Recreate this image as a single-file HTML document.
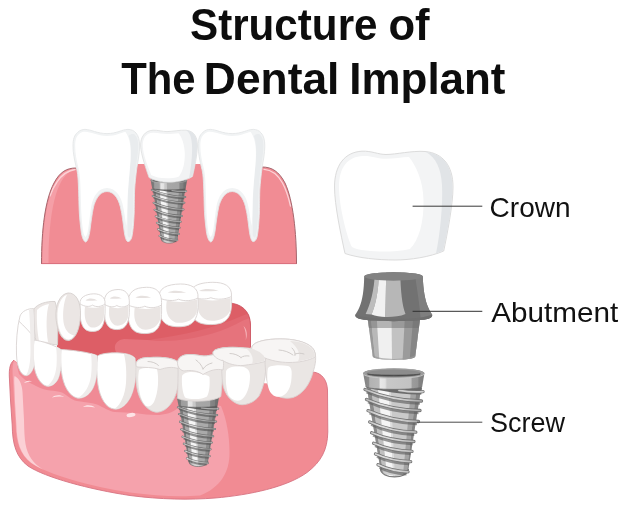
<!DOCTYPE html>
<html lang="en">
<head>
<meta charset="utf-8">
<title>Structure of The Dental Implant</title>
<style>
html,body{margin:0;padding:0;background:#fff;}
body{width:626px;height:508px;overflow:hidden;font-family:"Liberation Sans",sans-serif;}
svg{display:block;will-change:transform;}
</style>
</head>
<body>
<svg width="626" height="508" viewBox="0 0 626 508">
<rect width="626" height="508" fill="#ffffff"/>

<defs>
<linearGradient id="gBody" x1="366" x2="422" y1="0" y2="0" gradientUnits="userSpaceOnUse">
 <stop offset="0" stop-color="#858585"/><stop offset="0.09" stop-color="#909090"/>
 <stop offset="0.12" stop-color="#c2c2c2"/><stop offset="0.2" stop-color="#d0d0d0"/>
 <stop offset="0.23" stop-color="#f6f6f6"/><stop offset="0.38" stop-color="#f0f0f0"/>
 <stop offset="0.41" stop-color="#cfcfcf"/><stop offset="0.76" stop-color="#c8c8c8"/>
 <stop offset="0.79" stop-color="#a3a3a3"/><stop offset="0.87" stop-color="#9c9c9c"/>
 <stop offset="0.9" stop-color="#858585"/><stop offset="1" stop-color="#7d7d7d"/>
</linearGradient>
<linearGradient id="gThread" x1="364" x2="424" y1="0" y2="0" gradientUnits="userSpaceOnUse">
 <stop offset="0" stop-color="#b0b0b0"/><stop offset="0.25" stop-color="#dcdcdc"/>
 <stop offset="0.6" stop-color="#d0d0d0"/><stop offset="0.85" stop-color="#b5b5b5"/><stop offset="1" stop-color="#a0a0a0"/>
</linearGradient>
<linearGradient id="gCollar" x1="363" x2="424.500" y1="0" y2="0" gradientUnits="userSpaceOnUse">
 <stop offset="0" stop-color="#808080"/><stop offset="0.09" stop-color="#8c8c8c"/>
 <stop offset="0.11" stop-color="#b2b2b2"/><stop offset="0.26" stop-color="#b9b9b9"/>
 <stop offset="0.28" stop-color="#e8e8e8"/><stop offset="0.36" stop-color="#e2e2e2"/>
 <stop offset="0.39" stop-color="#c8c8c8"/><stop offset="0.78" stop-color="#c2c2c2"/>
 <stop offset="0.8" stop-color="#9c9c9c"/><stop offset="0.89" stop-color="#969696"/>
 <stop offset="0.91" stop-color="#838383"/><stop offset="1" stop-color="#7c7c7c"/>
</linearGradient>
<g id="crown">
 <path d="M345,253.5 C341,235 334.5,205 334.5,187 C334.5,165 345,152 362,151.2 C372,150.8 378,154.5 386,154.5 C396,154.5 412,150.5 425,151.5 C443,153 453,166 453,187 C453,205 447,235 443.7,251 C430,257 410,260 395,260 C378,260 358,258 345,253.5 Z" fill="#f3f4f5" stroke="#dcdcdc" stroke-width="1"/>
 <path d="M426,152 C444,154 452.5,167 452.5,187 C452.5,205 447,235 443.2,250.5 L436,253.5 C440,235 443,205 442,185 C441,168 436,158 426,152 Z" fill="#e1e4e7"/>
 <path d="M352,247 C348,240 339,208 339,187 C339,167 348,156.500 363,156 C372,155.700 378,158.800 386,158.800 C394,158.800 402,157 409,157 C416,166 423,180 423.500,200 C424,222 419,240 410,249 C402,251 392,251.500 384,251.500 C372,251.500 358,250.500 352,247 Z" fill="#ffffff"/>
</g>
<g id="tooth">
 <path d="M85.6,242 C83,241 81.5,235 81,230 C80,222 79.2,214 79,205 C78.800,195 78.5,185 78,178 C77.6,173 77,170 76.4,168 C74.5,160 73,153 73,146 C73,139 74.5,135 77.5,132.5 C80,130 82.5,129.4 85,129.4 C91,129.4 97,133.6 107,133.6 C117,133.6 122,129.4 128,129.4 C131,129.4 134,130.5 136,133 C138.5,136 139.6,140 139.6,146 C139.6,153 138,161 136.800,168 C135.800,176 135,183 134.600,190 C134.300,200 134.300,208 134.200,212 C133.800,222 133,232 131.800,237 C131,240 129.5,241.6 128,241.6 C126.5,241.6 125,238 124,230 C123,222 122,214 121,210 C119.5,201 115,191.500 107,191.500 C99,191.500 95,201 93.5,207 C92,214 91,222 90,230 C89,237 87.5,241.5 85.6,242 Z" fill="#f1f3f4" stroke="#e4e6e8" stroke-width="0.9"/>
 <path d="M128.5,136 C131,133.500 134,133.5 135.5,135.5 C137.5,138 138.2,141 138.2,146 C138.2,153 136.800,161 135.600,168 C134.600,176 133.800,183 133.400,190 C133.100,200 133.100,208 133,212 C132.600,222 131.800,231 130.800,235.500 C130,238.500 128.5,238 127.500,235 C127.800,228 127.800,215 127.800,205 C127.800,190 129,178 130,168 C131,158 132,143 128.5,136 Z" fill="#e9ecee"/>
 <path d="M85.3,237 C83.8,235 83.2,232 82.8,229 C81.9,222 81.200,214 81,205 C80.800,195 80.5,185 80,178 C79.6,173 79,170 78.4,167.5 C76.5,160 75.200,153 75.200,146 C75.200,140 76.300,136.5 78.800,134.300 C80.800,132.300 83,131.800 85,131.800 C91,131.800 97,136 107,136 C116,136 120.500,132.600 125.500,132 C130,138 131.300,148 130.500,160 C129.800,172 128,186 127.500,200 C127.200,210 127,220 126.300,226 C125.300,220 124.500,213 123.200,207 C121.500,197 116,188 107,188 C98,188 93,197 91.300,206 C90,214 89.200,222 88.200,229 C87.500,233.500 86.500,236.500 85.3,237 Z" fill="#ffffff"/>
</g>
<clipPath id="cpBody"><path d="M366.5,386 L421.5,386 L408.6,468 C408,479.500 381,479.500 380.2,468 Z"/></clipPath>
<g id="screwbody">
<g clip-path="url(#cpBody)">
<rect x="360" y="384" width="70" height="98" fill="#cacaca"/>
<path d="M360,384 L370.500,384 L384,480 L360,480Z" fill="#8b8b8b"/>
<path d="M370.500,384 L377.500,384 L387.500,480 L384,480Z" fill="#c0c0c0"/>
<path d="M377.500,384 L388.500,384 L393.500,480 L387.500,480Z" fill="#f5f5f5"/>
<path d="M388.500,384 L390.500,384 L395,480 L393.500,480Z" fill="#dedede"/>
<path d="M411.500,384 L417,384 L406,480 L402.500,480Z" fill="#a3a3a3"/>
<path d="M417,384 L430,384 L430,480 L406,480Z" fill="#848484"/>
<path d="M378,468 C382,479.500 408,479.500 411,468 L411,482 L378,482Z" fill="#8f8f8f" opacity="0.85"/>
</g>
<ellipse cx="393.500" cy="472.600" rx="9.500" ry="2.800" fill="#cfcfcf"/>
<path d="M380.400,469 C381,479.500 408,479.500 408.500,469" fill="none" stroke="#777" stroke-width="1.100"/>
<path d="M367,387.500 L422,387.500 L421.300,394.500 C410,394.800 396,393.500 384,391 C378,390 372,389 367,387.500Z" fill="#6a6a6a"/>
<path d="M366.5,392.1 C381.9,399.2 400.0,403.0 420.0,403.4" fill="none" stroke="#5c5c5c" stroke-opacity="0.62" stroke-width="2.6"/>
<path d="M368.0,402.1 C382.6,408.9 399.7,412.5 418.5,412.9" fill="none" stroke="#5c5c5c" stroke-opacity="0.62" stroke-width="2.6"/>
<path d="M369.5,413.2 C383.1,420.0 399.3,423.5 417.0,423.9" fill="none" stroke="#5c5c5c" stroke-opacity="0.62" stroke-width="2.6"/>
<path d="M371.2,424.6 C383.5,430.9 398.3,434.2 414.3,434.6" fill="none" stroke="#5c5c5c" stroke-opacity="0.62" stroke-width="2.6"/>
<path d="M373.1,435.4 C384.3,440.8 397.8,443.5 412.4,443.9" fill="none" stroke="#5c5c5c" stroke-opacity="0.62" stroke-width="2.6"/>
<path d="M375.1,445.9 C385.1,450.9 397.4,453.4 410.5,453.8" fill="none" stroke="#5c5c5c" stroke-opacity="0.62" stroke-width="2.6"/>
<path d="M377.0,456.6 C386.1,461.3 397.3,463.6 409.2,464.0" fill="none" stroke="#5c5c5c" stroke-opacity="0.62" stroke-width="2.6"/>
<path d="M379.5,467.4 C387.0,471.7 396.6,473.8 406.5,474.2" fill="none" stroke="#5c5c5c" stroke-opacity="0.62" stroke-width="2.6"/>
<path d="M399,390.300 Q412,392.400 423,391.600" fill="none" stroke="#737373" stroke-width="3.300" stroke-linecap="round"/>
<path d="M399,390.300 Q412,392.400 423,391.600" fill="none" stroke="#cfcfcf" stroke-width="1.700" stroke-linecap="round"/>
<path d="M365.0,389.5 C381.9,396.6 400.0,400.6 421.5,401.0" fill="none" stroke="#737373" stroke-width="3.300" stroke-linecap="round"/>
<path d="M365.0,389.5 C381.9,396.6 400.0,400.6 421.5,401.0" fill="none" stroke="url(#gThread)" stroke-width="1.700" stroke-linecap="round"/>
<path d="M366.5,399.5 C382.6,406.3 399.7,410.1 420.0,410.5" fill="none" stroke="#737373" stroke-width="3.300" stroke-linecap="round"/>
<path d="M366.5,399.5 C382.6,406.3 399.7,410.1 420.0,410.5" fill="none" stroke="url(#gThread)" stroke-width="1.700" stroke-linecap="round"/>
<path d="M368.0,410.6 C383.1,417.4 399.3,421.1 418.5,421.5" fill="none" stroke="#737373" stroke-width="3.300" stroke-linecap="round"/>
<path d="M368.0,410.6 C383.1,417.4 399.3,421.1 418.5,421.5" fill="none" stroke="url(#gThread)" stroke-width="1.700" stroke-linecap="round"/>
<path d="M369.7,422.0 C383.5,428.3 398.3,431.8 415.8,432.2" fill="none" stroke="#737373" stroke-width="3.300" stroke-linecap="round"/>
<path d="M369.7,422.0 C383.5,428.3 398.3,431.8 415.8,432.2" fill="none" stroke="url(#gThread)" stroke-width="1.700" stroke-linecap="round"/>
<path d="M371.6,432.8 C384.3,438.2 397.8,441.1 413.9,441.5" fill="none" stroke="#737373" stroke-width="3.300" stroke-linecap="round"/>
<path d="M371.6,432.8 C384.3,438.2 397.8,441.1 413.9,441.5" fill="none" stroke="url(#gThread)" stroke-width="1.700" stroke-linecap="round"/>
<path d="M373.6,443.3 C385.1,448.3 397.4,451.0 412.0,451.4" fill="none" stroke="#737373" stroke-width="3.300" stroke-linecap="round"/>
<path d="M373.6,443.3 C385.1,448.3 397.4,451.0 412.0,451.4" fill="none" stroke="url(#gThread)" stroke-width="1.700" stroke-linecap="round"/>
<path d="M375.5,454.0 C386.1,458.7 397.3,461.2 410.7,461.6" fill="none" stroke="#737373" stroke-width="3.300" stroke-linecap="round"/>
<path d="M375.5,454.0 C386.1,458.7 397.3,461.2 410.7,461.6" fill="none" stroke="url(#gThread)" stroke-width="1.700" stroke-linecap="round"/>
<path d="M378.0,464.8 C387.0,469.1 396.6,471.4 408.0,471.8" fill="none" stroke="#737373" stroke-width="3.300" stroke-linecap="round"/>
<path d="M378.0,464.8 C387.0,469.1 396.6,471.4 408.0,471.8" fill="none" stroke="url(#gThread)" stroke-width="1.700" stroke-linecap="round"/>
</g>
<g id="screwtop">
<path d="M363.2,373.500 C363.2,366.500 424.4,366.500 424.4,373.500 L422.2,386.500 C421.500,390.300 366.500,390.300 365.600,386.500 Z" fill="url(#gCollar)"/>
<path d="M365.600,386.500 C366.500,390.300 421.500,390.300 422.200,386.500" fill="none" stroke="#6a6a6a" stroke-width="0.9" opacity="0.8"/>
<ellipse cx="393.8" cy="373.200" rx="30.600" ry="4.900" fill="#9c9c9c"/>
<ellipse cx="393.8" cy="373.300" rx="27.500" ry="3.700" fill="#8c8c8c"/>
<path d="M367.500,374 C373,376.800 414,376.800 420.200,374 C414,375.500 374,375.500 367.500,374Z" fill="#444" stroke="#4e4e4e" stroke-width="0.7"/>
<path d="M363.500,374.300 C368,379.600 419,379.600 424.100,374.300" fill="none" stroke="#c9c9c9" stroke-width="1" opacity="0.9"/>
</g>
<g id="screwshade" fill="#2e2e2e">
<path d="M363.200,373.500 L378,373.500 L378.500,392 L386,474 L381.500,474 L380.200,468 L366.500,392Z" opacity="0.160"/>
<path d="M390,373.500 L424.400,373.500 L421.500,392 L408.600,468 L407.500,474 L394.500,474 L391,392Z" opacity="0.200"/>
</g>
</defs>



<g font-family="'Liberation Sans', sans-serif" font-weight="700" font-size="43.9" fill="#0d0d0d">
<text x="190.00" y="39.6" textLength="187.50" lengthAdjust="spacingAndGlyphs">Structure</text>
<text x="388.45" y="39.6" textLength="41.17" lengthAdjust="spacingAndGlyphs">of</text>
<text x="121.20" y="94.0" textLength="74.39" lengthAdjust="spacingAndGlyphs">The</text>
<text x="203.88" y="94.0" textLength="135.56" lengthAdjust="spacingAndGlyphs">Dental</text>
<text x="349.29" y="94.0" textLength="156.21" lengthAdjust="spacingAndGlyphs">Implant</text>
</g>


<g id="section">
<path d="M41.5,264 C41.5,230 45,200 54,183 C60,171.5 67,168 76,168 L80,168 L80,164 L258,164 L258,167 L262,167 C272,167 279,171.5 285,183 C293,200 296.5,232 296.5,264 Z" fill="#f18c94"/>
<path d="M42.5,264 C42.5,230 46,200 55,183.5 C60.5,173 67,169 76,168.8 C70,170.500 64.500,175 60,184 C52,200 48.500,230 48.500,264 Z" fill="#f59fa7"/>
<path d="M50,196 C52,190 54.500,185.500 57,182 C61.500,175 67,170.800 75,169.500" fill="none" stroke="#fbd3d7" stroke-width="1.300" stroke-linecap="round"/>
<path d="M41.5,264 C41.5,230 45,200 54,183 C60,171.5 67,168 76,168" fill="none" stroke="#a5666d" stroke-width="1"/>
<path d="M264,169.300 C271.500,169.800 277.500,174 282.500,183 C286,189.500 288.500,197 290.500,206" fill="none" stroke="#fbd3d7" stroke-width="1.300" stroke-linecap="round"/>
<path d="M262,167 C272,167 279,171.5 285,183 C293,200 296.5,232 296.5,264" fill="none" stroke="#a5666d" stroke-width="1"/>
<line x1="41.5" y1="263.6" x2="296.5" y2="263.6" stroke="#d9707d" stroke-width="1"/>
<use href="#tooth"/>
<use href="#tooth" transform="translate(125.2,0)"/>
<g transform="translate(168.8,189) scale(0.593,0.610) translate(-393.7,-388)"><use href="#screwbody"/><use href="#screwtop"/><use href="#screwshade"/></g>
<g id="smallcrown">
<path d="M149,177.500 C146.500,170 141,155 140.600,146 C140.300,137 145,130.500 153,130.200 C158,130 162,131.600 167,131.600 C172,131.600 180,129.800 186,130.200 C194,131 197.600,137 197.400,146 C197.200,155 194.500,168 192.500,176.500 C186,180.500 177,182.300 169,182.300 C161,182.300 154,180.500 149,177.500Z" fill="#f2f3f4" stroke="#dedfe0" stroke-width="0.800"/>
<path d="M186.500,130.400 C194,131 197.200,137 197.200,146 C197,155 194.300,168 192.300,175.800 L189,178.500 C191,168 192.500,155 192,145 C191.500,137 190,133 186.500,130.400Z" fill="#e2e5e8"/>
<path d="M151,174.500 C148.500,168 143,155 142.800,146 C142.600,138 146,133 153,132.700 C158,132.500 162,134 167,134 C171,134 175,133.200 178.500,133.200 C182,137 184.500,145 184.800,153 C185,163 183,171 179,176.500 C175,178 171,178.300 167,178.300 C160,178.300 155,177 151,175Z" fill="#ffffff"/>
</g>
</g>

<g id="jaw">
<!-- inner mouth -->
<clipPath id="cpMouth"><path d="M57,316 L226,312 L229,303 C240,303.500 250.500,310 250.500,325 L250.500,365 L57,365 Z"/></clipPath>
<g clip-path="url(#cpMouth)">
<rect x="50" y="300" width="205" height="70" fill="#dd5e66"/>
<path d="M150,339.500 C180,336 215,328 243,315.500 L252,312 L252,324 C225,334 200,340 175,342 Z" fill="#e16871"/>
<path d="M116,352 C113,346 116,340 124,339 C145,339.500 160,341.500 175,340.500 C200,338.500 225,331 243,320.500 L252,317 L252,365 L120,365Z" fill="#e6737c"/>
<path d="M243.500,326 C247,329 247.800,335 245.800,340 C246.300,335 245.500,330 243.500,326Z" fill="#f6b3b9"/>
</g>
<path d="M229,303 C240,303.500 250.500,310 250.500,325 L250.500,347" fill="none" stroke="#c9515e" stroke-width="0.800"/>

<!-- back teeth -->
<g id="backmolars">
<path d="M190.0,296.5 C189.4,310.4 190.8,319.3 200.0,323.0 C206.6,325.1 214.9,325.1 221.5,323.0 C230.7,319.3 232.1,310.4 231.5,296.5 C232.3,285.8 224.0,282.3 212.8,282.3 C198.3,282.6 189.4,286.3 190.0,296.5Z" fill="#ffffff" stroke="#d9d4d2" stroke-width="0.9" stroke-linejoin="round"/>
<path d="M198.3,299.0 C196.6,309.0 198.3,316.3 207.4,320.3 C215.7,321.7 226.5,319.3 230.3,310.4 C230.7,304.8 230.7,300.5 230.7,298.0 C219.1,301.0 208.7,301.0 198.3,299.0Z" fill="#eae5e3"/>
<path d="M190.0,296.5 C198.3,299.5 205.8,299.7 210.8,297.7 C217.0,300.1 225.3,299.5 231.5,296.5" fill="none" stroke="#d9d4d2" stroke-width="0.9"/>
<path d="M199.1,290.9 C204.5,288.2 212.8,288.6 219.1,291.2 C212.8,290.7 206.6,292.0 199.1,290.9Z" fill="#e6e1df"/>
<path d="M159.0,298.0 C158.4,312.2 159.8,321.5 168.4,325.2 C174.6,327.3 182.4,327.3 188.6,325.2 C197.2,321.5 198.6,312.2 198.0,298.0 C198.8,287.5 191.0,284.0 180.4,284.0 C166.8,284.3 158.4,288.0 159.0,298.0Z" fill="#ffffff" stroke="#d9d4d2" stroke-width="0.9" stroke-linejoin="round"/>
<path d="M166.8,300.5 C165.2,310.8 166.8,318.5 175.4,322.5 C183.2,323.9 193.3,321.5 196.8,312.2 C197.2,306.6 197.2,302.0 197.2,299.5 C186.3,302.5 176.6,302.5 166.8,300.5Z" fill="#eae5e3"/>
<path d="M159.0,298.0 C166.8,301.0 173.8,301.2 178.5,299.2 C184.3,301.6 192.2,301.0 198.0,298.0" fill="none" stroke="#d9d4d2" stroke-width="0.9"/>
<path d="M167.6,292.5 C172.7,289.8 180.4,290.2 186.3,292.8 C180.4,292.3 174.6,293.6 167.6,292.5Z" fill="#e6e1df"/>
<path d="M128.0,305.0 C127.4,319.1 128.8,328.3 136.0,332.0 C141.4,334.1 148.1,334.1 153.5,332.0 C160.7,328.3 162.1,319.1 161.5,305.0 C162.3,290.8 155.5,287.3 146.4,287.3 C134.7,287.6 127.4,291.3 128.0,305.0Z" fill="#ffffff" stroke="#d9d4d2" stroke-width="0.9" stroke-linejoin="round"/>
<path d="M134.7,307.5 C133.4,317.7 134.7,325.3 142.1,329.3 C148.8,330.7 157.5,328.3 160.3,319.1 C160.7,313.5 160.7,309.0 160.7,306.5 C151.4,309.5 143.1,309.5 134.7,307.5Z" fill="#eae5e3"/>
<path d="M128.0,305.0 C134.7,308.0 140.7,308.2 144.8,306.2 C149.8,308.6 156.5,308.0 161.5,305.0" fill="none" stroke="#d9d4d2" stroke-width="0.9"/>
<path d="M135.4,297.6 C139.7,294.9 146.4,295.3 151.4,297.9 C146.4,297.4 141.4,298.8 135.4,297.6Z" fill="#e6e1df"/>
<path d="M104.3,304.3 C103.7,316.8 105.1,324.3 110.3,328.0 C114.3,330.1 119.3,330.1 123.3,328.0 C128.5,324.3 129.9,316.8 129.3,304.3 C130.1,293.0 124.8,289.5 118.1,289.5 C109.3,289.8 103.7,293.5 104.3,304.3Z" fill="#ffffff" stroke="#d9d4d2" stroke-width="0.9" stroke-linejoin="round"/>
<path d="M109.3,306.8 C108.3,315.6 109.3,321.3 114.8,325.3 C119.8,326.7 126.3,324.3 128.1,316.8 C128.5,311.8 128.5,308.3 128.5,305.8 C121.8,308.8 115.6,308.8 109.3,306.8Z" fill="#eae5e3"/>
<path d="M104.3,304.3 C109.3,307.3 113.8,307.5 116.8,305.5 C120.6,307.9 125.6,307.3 129.3,304.3" fill="none" stroke="#d9d4d2" stroke-width="0.9"/>
<path d="M109.8,298.4 C113.0,295.7 118.1,296.1 121.8,298.7 C118.1,298.2 114.3,299.5 109.8,298.4Z" fill="#e6e1df"/>
<path d="M80.0,303.9 C79.4,317.5 80.8,326.2 86.0,329.9 C90.0,332.0 95.0,332.0 99.0,329.9 C104.2,326.2 105.6,317.5 105.0,303.9 C105.8,297.3 100.5,293.8 93.8,293.8 C85.0,294.1 79.4,297.8 80.0,303.9Z" fill="#ffffff" stroke="#d9d4d2" stroke-width="0.9" stroke-linejoin="round"/>
<path d="M85.0,306.4 C84.0,316.2 85.0,323.2 90.5,327.2 C95.5,328.6 102.0,326.2 103.8,317.5 C104.2,312.1 104.2,307.9 104.2,305.4 C97.5,308.4 91.2,308.4 85.0,306.4Z" fill="#eae5e3"/>
<path d="M80.0,303.9 C85.0,306.9 89.5,307.1 92.5,305.1 C96.2,307.5 101.2,306.9 105.0,303.9" fill="none" stroke="#d9d4d2" stroke-width="0.9"/>
<path d="M85.5,300.4 C88.8,297.7 93.8,298.1 97.5,300.7 C93.8,300.2 90.0,301.5 85.5,300.4Z" fill="#e6e1df"/>
</g>
<g fill="#ebe6e4" stroke="#d6d0ce" stroke-width="0.9" stroke-linejoin="round">
<path d="M34,309 C37,304 47,301 55,301.5 C58,310 58,330 57.5,345 L36,342 C34,330 33,318 34,309Z"/>
<path d="M56,318 C55,305 60,294 68,293 C76,292.5 81,302 80.5,315 C80,328 76,339 69,340.5 C62,341.5 57,331 56,318Z"/>
</g>
<!-- back teeth highlights -->
<g fill="#ffffff">
<path d="M57.500,318 C57,306 61,296.500 67,294.800 C63.500,302 62.500,313 63.500,322 C64.500,329 68,334 74,335.500 C72,338.500 70,339.500 68.500,339.500 C62.500,339.500 58,330 57.500,318Z"/>
<path d="M37,310 C40,306.5 45,304.5 49,304 C46,312 46,330 48,342 L39,341 C37,330 36.500,318 37,310Z"/>
</g>

<!-- front gum -->
<path d="M14,360 C9,364 9,372 9.500,380 L10.500,400 L12.200,425 C12.500,444 16,457 28,466 C45,477.500 90,489.500 130,495.500 C160,499.500 190,500 215,498 C250,495 287,487 307,472.500 C321,462 327.500,450 327.800,432 L327.500,390 C327,380 322,373 313,372 L300,385 L30,372 Z" fill="#f18b93"/>
<path d="M14,361 C12,365 12.500,372 13,380 L14,400 L15.700,425 C16,442 19.500,454 31,463 C48,474.500 90,486.500 130,492.500 C155,496 180,497 200,495.500 C220,488 230,472 229.500,452 C229.500,437 227,420 221,406 L150,395 L30,372 Z" fill="#f5a2ac"/>
<path d="M14.600,376 C14,378 14.200,382 14.400,386 L15,402 L16.400,425 C16.800,442 20,454 31.500,463 C35,465.500 39,467.800 43,469.500 C34,464 27.500,456 25.500,444 C24.500,438 24.200,430 24,420 L22.500,392 C22,384 19,378 14.600,376Z" fill="#fbd0d5"/>
<path d="M14,360 C9,364 9,372 9.500,380 L10.500,400 L12.200,425 C12.500,444 16,457 28,466 C45,477.500 90,489.500 130,495.500 C160,499.500 190,500 215,498 C250,495 287,487 307,472.500 C321,462 327.500,450 327.800,432 L327.500,390 C327,380 322,373 313,372" fill="none" stroke="#d77381" stroke-width="0.9"/>
<!-- gingival darker band -->
<path d="M17,366 L19,374 C24,380 30,383 36,386 C42,389 46,390 50,390.500 C55,391 58,391 62,392.500 C67,395 71,400 77,401 C84,402 91,402.500 97,404.500 C103,407 109,411.500 115,412 C122,412.500 129,412.500 135,413 C142,414 150,415 157,415 C164,415 172,413 178,408 L178,396 L20,362Z" fill="#f08a95"/>
<!-- small highlights -->
<g fill="#fde3e6">
<path d="M24,383 C26,380.500 30,380 32,381.500 C29,381.500 26.500,382.200 24,383Z"/>
<path d="M52,397.500 C55,394.500 61,394.500 64,397 C60,396.200 56,396.500 52,397.500Z"/>
<path d="M83,407 C86,404.500 92,405 95,407.500 C91,406.500 87,406.500 83,407Z"/>
<ellipse cx="131" cy="415" rx="4.500" ry="2" transform="rotate(-8 131 415)"/>
</g>

<!-- implant -->
<g transform="translate(197.850,393) scale(0.691,0.678) translate(-393.700,-368.400)"><use href="#screwbody"/><use href="#screwtop"/><use href="#screwshade"/></g>

<!-- front teeth -->
<g stroke="#d9d4d2" stroke-width="0.9" stroke-linejoin="round">
<path d="M20,316 C22,311 28,308.500 33.500,308.500 C34.500,325 34.500,350 34,366 C32,373 28,376.500 25,375.500 C20,374 17,366 16.500,355 C16,342 17,328 20,316Z" fill="#ffffff"/>
<path d="M34,340 C42,341 54,345 61,349.500 C62,360 61,372 58,379 C55,385 50,387 46,386 C40,384 35,375 34,365 C33,356 33,347 34,340Z" fill="#ffffff"/>
<path d="M61,349.500 C72,350 88,352 97,355.500 C98,367 97,380 93,388 C89,396 82,399 77,398 C69,396 63,385 61.500,372 C60.500,364 60.500,356 61,349.500Z" fill="#ffffff"/>
<path d="M97.500,356 C102,353 112,352.500 120,353 C127,353.500 132,355 135,358 C136.500,370 136,385 131,396 C127,405 120,410 114,409 C106,408 100,398 98,385 C96.500,375 96.500,364 97.500,356Z" fill="#ffffff"/>
<path d="M136,364 C136,360 142,357 150,357.500 C158,357 172,357 178,362 C180,375 179,392 172,402 C167,410 160,413 155,412 C146,410 139,400 137,388 C135.500,380 135.500,371 136,364Z" fill="#eae6e4"/>
<path d="M178,366 C176,360 180,355 188,354.500 C195,354 200,356 204,356 C210,356 215,353 220,356 C224,358 224,364 223,370 C222.500,380 221.500,390 220.800,396.500 C214,401.800 190,402.800 177.600,398.500 C177.800,390 178.200,376 178,366Z" fill="#eae6e4"/>
<path d="M222,360.500 C215,358.500 210,353 215,350 C222,346.700 235,347 245,348 C255,348.500 262,351 265,356.500 C267,368 265,385 259,396 C254,403 245,405.500 240,404.500 C232,403 225,395 223,385 C221.500,376 221.500,367 222,360Z" fill="#eae6e4"/>
<path d="M265,358 C255,357 249,350 253,345 C258,340 272,338.500 285,339 C297,339.500 310,343 314,350 C317,356 315.500,365 313,372 C310,384 303,394 293,397.500 C283,400 272,396 268,385 C265.500,377 265,366 265,358Z" fill="#eae6e4"/>
</g>
<path d="M18.700,321 C24,326 30,332 35,338.500" fill="none" stroke="#d9d4d2" stroke-width="0.900"/>
<!-- front teeth shading -->
<g fill="#efeceb">
<path d="M29,310 C31,309 32.500,308.800 33.300,308.800 C34.300,325 34.300,350 33.800,366 C32,372 29,375.500 26,375.300 C29,371 30.500,362 30.500,350 C30.500,335 30,320 29,310Z"/>
<path d="M56,346.500 C58,347.500 60,348.800 60.800,349.800 C61.800,360 60.800,372 57.800,379 C55,385 50,386.800 47,386 C52,383 55.500,376 56.500,366 C57,359 56.800,352 56,346.500Z"/>
<path d="M91,353.500 C93.500,354 95.500,354.800 96.800,355.800 C97.800,367 96.800,380 92.800,388 C89,395.500 83,398.800 78,397.800 C85,394 89.500,386 91,376 C92,368 91.800,360 91,353.500Z"/>
</g>
<g fill="#eae6e4">
<path d="M124,354 C129,354.500 133,356 134.800,358.300 C136.300,370 135.800,385 130.800,396 C127,404.500 120,409.500 115,408.800 C121,404 125,395 126,383 C126.800,373 126,362 124,354Z"/>
</g>
<g fill="#ffffff">
<path d="M139,370 C142,367.500 152,367 157,369 C159,378 158.500,392 154,402 C151,407 147,407.500 145,405 C141,400 139,392 138.500,384 C138,379 138.300,374 139,370Z"/>
<path d="M182,376 C184,372 192,371 199,373 C203,374.500 208,375 209.500,377 C210,385 209.500,392 207,396.500 C203,399.500 190,400 185,397.500 C182.500,393 181.500,384 182,376Z"/>
<path d="M226,372 C226,368 232,366 240,366.500 C247,367 250,370 250,376 C250,386 247,396 241,400 C236,402 230,399 228,394 C226,388 225.500,380 226,372Z"/>
<path d="M268,368 C270,365 280,364.500 288,366 C292,367 292,372 291.500,378 C291,388 287,394.500 281,396.500 C275,398 270,394 268.500,388 C267,381 267,373 268,368Z"/>
</g>
<!-- occlusal surfaces -->
<g fill="#f7f5f4" stroke="#d9d4d2" stroke-width="0.9" stroke-linejoin="round">
<path d="M136,364 C136,360 142,357 150,357.500 C158,357 172,357 178,362 C178.500,364.500 178.500,366.500 178,368.500 C172,366.500 166,367.500 160,369.500 C153,367 144,367.500 137,367 C136.300,366 136,365 136,364Z"/>
<path d="M178,366 C176,360 180,355 188,354.500 C195,354 200,356 204,356 C210,356 215,353 220,356 C224,358 224,364 223,370 C217,368.500 210,370 203,374.500 C198,370.500 190,370 184,371 C181,370.500 179,368.500 178,366Z"/>
<path d="M222,360.500 C215,358.500 210,353 215,350 C222,346.700 235,347 245,348 C255,348.500 262,351 265,356.500 C265.500,358 265.500,360 265,361.500 C258,363.500 250,364.500 243,365.500 C236,366 228,364 222,360Z"/>
<path d="M265,358 C255,357 249,350 253,345 C258,340 272,338.500 285,339 C297,339.500 310,343 314,350 C315,352.500 315.500,355 315.200,357 C308,361 298,362.500 289,362.500 C280,362.500 271,360.500 265,358Z"/>
</g>
<g fill="#e9e5e3">
<path d="M290,341 C300,341.500 309,344 313,350 C314.500,353 315,355 314.800,356.800 C310,359 304,360.500 298,361.300 C301,356 299,348 290,341Z"/>
<path d="M246,348 C254,348.500 260,351 264,356 C264.500,358 264.500,359.500 264.200,361 C260,362.300 256,363 252,363.800 C254,359 252,353 246,348Z"/>
</g>
<g fill="none" stroke="#cdc8c6" stroke-width="0.9" stroke-linecap="round">
<path d="M279,350 C284,350.300 289,352 293,355 M292,348 C294.500,350.500 295.500,353 295,355.500 M295,354 C298,353 301,353 304,354"/>
<path d="M230,353.500 C234,353.500 238,355 241,357.500 M241,357.500 C243,356 246,355.500 249,356"/>
<path d="M196,360 C199,362 201.500,365 203,369 M203,369 C205,366 208,364 212,363"/>
<path d="M148,361.500 C152,361.500 156,363 158.500,365.500"/>
</g>
</g>


<g id="parts">
<use href="#crown"/>

<g id="abut">
<clipPath id="cpAbLow"><path d="M367.3,316 L420.4,316 L415.2,356.500 C414,361 374,361 372.800,356.500 Z"/></clipPath>
<clipPath id="cpAbUp"><path d="M364.2,276.800 C364.2,270.800 422.8,270.800 422.8,276.800 C423.200,290 425,300 428,307 C429.500,310.500 431,313 432.200,314.800 C432.500,317 430,318.500 426,319.300 C415,321.800 372,321.800 361.500,319.300 C357.500,318.500 355,317 355.300,314.800 C356.500,313 358,310.500 359.500,307 C362.500,300 364,290 364.200,276 Z"/></clipPath>
<g clip-path="url(#cpAbLow)">
<rect x="360" y="314" width="70" height="50" fill="#c2c2c2"/>
<path d="M360,314 L370.500,314 L375.500,362 L360,362Z" fill="#9a9a9a"/>
<path d="M370.500,314 L376.500,314 L379.500,362 L375.500,362Z" fill="#b8b8b8"/>
<path d="M376.500,314 L391.500,314 L392,362 L379.500,362Z" fill="#f0f0f0"/>
<path d="M405,314 L430,314 L430,362 L402.500,362Z" fill="#9b9b9b"/>
<path d="M413.500,314 L430,314 L430,362 L409.500,362Z" fill="#868686"/>
<rect x="360" y="314" width="70" height="14" fill="#6a6a6a" opacity="0.450"/>
<path d="M372,354 C376,360.500 412,360.500 416,354 L416,362 L372,362Z" fill="#9a9a9a" opacity="0.7"/>
</g>
<g clip-path="url(#cpAbUp)">
<rect x="350" y="268" width="90" height="56" fill="#727272"/>
<path d="M414,268 L440,268 L440,324 L421,324 C420,305 417,290 414,268Z" fill="#7f7f7f"/>
<path d="M375,270 L379,270 C378.800,290 376,304 371.600,314.500 L365.600,314 C370.500,304 374.500,290 375,270Z" fill="#bdbdbd"/>
<path d="M379,270 L386.200,270 L385.500,317 C381,317 375,316 371.600,314.500 C376,304 378.800,290 379,270Z" fill="#f1f1f1"/>
<path d="M386.200,270 L400.200,270 C400.500,290 402,305 405.500,314 C400,316.500 392,317.200 385.500,317Z" fill="#b7b7b7"/>
<path d="M355,314.500 C365,318.500 385,319 393.700,319 C405,319 422,318.500 432.500,314.500 L433,323 L355,323Z" fill="#6f6f6f"/>
</g>
<ellipse cx="393.5" cy="276.400" rx="29.300" ry="4.300" fill="#828282"/>
</g>

<use href="#screwbody"/><use href="#screwtop"/>
</g>


<g font-family="'Liberation Sans', sans-serif" font-size="28" fill="#111">
<line x1="412.6" y1="206.200" x2="482.3" y2="206.200" stroke="#383838" stroke-width="1"/>
<text x="489.6" y="217.1" textLength="81" lengthAdjust="spacingAndGlyphs">Crown</text>
<line x1="412.6" y1="311.300" x2="482.3" y2="311.300" stroke="#303030" stroke-width="1"/>
<text x="491.3" y="322.2" textLength="127" lengthAdjust="spacingAndGlyphs">Abutment</text>
<line x1="417" y1="422.200" x2="482.3" y2="422.200" stroke="#4a4a4a" stroke-width="1"/>
<text x="490" y="432.2" textLength="75" lengthAdjust="spacingAndGlyphs">Screw</text>
</g>

</svg>
</body>
</html>
